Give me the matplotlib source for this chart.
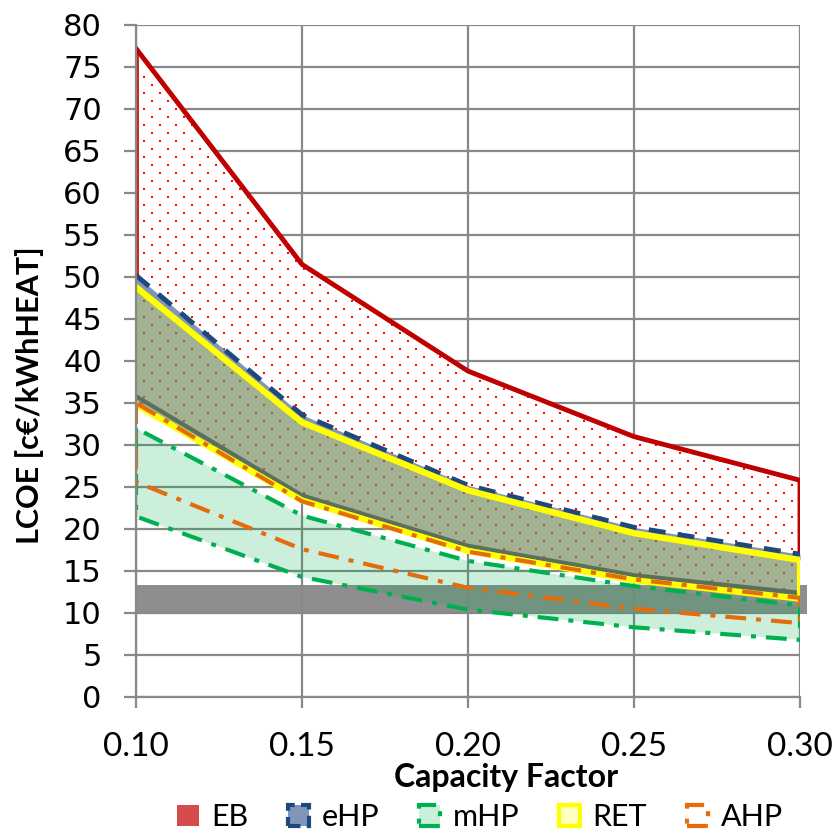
import numpy as np
import matplotlib
matplotlib.use('Agg')
import matplotlib.pyplot as plt
from matplotlib.patches import Patch

# capacity factor on x, LCOE bands per technology (c€/kWh heat)
cf = [0.10, 0.15, 0.20, 0.25, 0.30]
eb_max = [77.2, 51.5, 38.8, 31.0, 25.8]
ehp_max = [50.2, 33.6, 25.2, 20.2, 17.0]
ehp_min = [35.8, 24.0, 18.0, 14.5, 12.4]
ret_max = [48.8, 32.7, 24.6, 19.5, 16.3]
ret_min = [34.8, 23.4, 17.4, 13.9, 11.7]
ahp_max = [35.0, 23.3, 17.3, 14.0, 11.8]
ahp_min = [25.6, 17.6, 13.0, 10.5, 8.8]
mhp_max = [32.0, 21.6, 16.2, 13.2, 10.9]
mhp_min = [21.5, 14.3, 10.4, 8.3, 6.8]
ref_band = [9.9, 13.3]

xticks = [0.10, 0.15, 0.20, 0.25, 0.30]
yticks = list(range(0, 81, 5))
labels = ['EB', 'eHP', 'mHP', 'RET', 'AHP']

red = '#c00000'
navy = '#1f497d'
bluegrey = '#8096b8'
green = '#00b050'
orange = '#e46c0a'
yellow = '#ffff00'
dashdot = (0, (5, 2.4, 1.2, 2.4))

fig = plt.figure(figsize=(8.38, 8.32), dpi=100)
ax = fig.add_axes([136/838, 135/832, 664/838, 672/832])
ax.set_xlim(0.10, 0.30)
ax.set_ylim(0, 80)

ax.set_axisbelow(True)
ax.grid(True, color='#888888', lw=1.6)

# grey reference band
ax.axhspan(ref_band[0], ref_band[1], xmin=0, xmax=1.01, color='#8e8e8e', lw=0, zorder=0.3, clip_on=False)

# EB: white area with red dots
eb_poly = ax.fill_between(cf, ehp_min, eb_max, facecolor='white', lw=0, zorder=1)
px = 0.2 / 664
py = 80 / 672
gx = np.arange(0.10, 0.30, 16 * px)
gy = np.arange(0.5, 80, 8 * py)
pts = np.array([(x + (i % 2) * 8 * px, y) for i, y in enumerate(gy) for x in gx])
dots = ax.scatter(pts[:, 0], pts[:, 1], s=2.2, marker='s', color='red', lw=0, zorder=1.1)
dots.set_clip_path(eb_poly.get_paths()[0], ax.transData)

# mHP
ax.fill_between(cf, mhp_min, mhp_max, facecolor=(0, 0.69, 0.31, 0.2), edgecolor=green,
                lw=3, linestyle=dashdot, zorder=2)

# eHP strip and RET/eHP overlap
ax.fill_between(cf, ret_max, ehp_max, color=bluegrey, lw=0, zorder=2.4)
ax.fill_between(cf, ret_min, ret_max, facecolor=(112/255, 134/255, 86/255, 0.64), lw=0, zorder=2.5)

# EB outline
ax.plot(cf + [0.30], eb_max + [ehp_max[-1]], color=red, lw=3.5, zorder=2.2)
ax.plot([0.10 + 1.5 * px] * 2, [ehp_max[0], eb_max[0]], color=red, lw=1.2, zorder=6)

ax.plot(cf, ehp_max, color=navy, lw=3.5, dashes=(3.5, 2.5), zorder=3.1)
ax.plot(cf, ehp_min, color='#5a705c', lw=3, zorder=3)

# RET outline
ax.plot(cf + cf[::-1], ret_max + ret_min[::-1], color=yellow, lw=4.5, zorder=3.5)

# AHP outline
ax.fill_between(cf, ahp_min, ahp_max, facecolor='none', edgecolor=orange,
                lw=3, linestyle=dashdot, zorder=4)

ax.set_xticks(xticks)
ax.set_xticklabels([f'{v:.2f}' for v in xticks], family='Lato', fontsize=24)
ax.set_yticks(yticks)
ax.set_yticklabels([str(v) for v in yticks], family='DejaVu Sans', fontsize=22)
ax.tick_params(axis='x', color='#888888', width=1.6, length=8, pad=17)
ax.tick_params(axis='y', color='#888888', width=1.6, length=8.6, pad=16)

for s in ['top', 'right']:
    ax.spines[s].set_visible(False)
for s in ['left', 'bottom']:
    ax.spines[s].set_color('#888888')
    ax.spines[s].set_linewidth(1.6)
    ax.spines[s].set_zorder(5)

fig.text(506/838, 1 - 787/832, 'Capacity Factor', family='Lato', weight='bold',
         fontsize=23, ha='center', va='baseline')
fig.text(30/838, 1 - 395/832, 'LCOE [c€/kWhHEAT]', family='Lato', weight='bold',
         fontsize=22, ha='center', va='center', rotation=90)

handles = [
    Patch(facecolor='#d44c4c', edgecolor='none'),
    Patch(facecolor='#7f96b8', edgecolor=navy, lw=3, linestyle=(0, (3, 1.5))),
    Patch(facecolor='#ccefdc', edgecolor=green, lw=3, linestyle=dashdot),
    Patch(facecolor='#ffffc0', edgecolor=yellow, lw=3),
    Patch(facecolor='white', edgecolor=orange, lw=3, linestyle=dashdot),
]
fig.legend(handles, labels, loc='center', bbox_to_anchor=(480/838, 1 - 817/832), ncol=5,
           frameon=False, prop={'family': 'Lato', 'size': 22}, handlelength=0.7,
           handleheight=0.7, handletextpad=0.4, columnspacing=1.3, borderpad=0)

fig.savefig('out.png', dpi=100)
